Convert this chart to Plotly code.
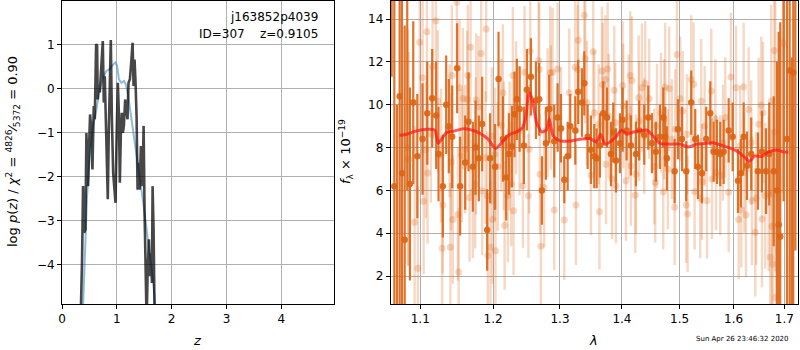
import plotly.graph_objects as go

# ---------------- left panel: redshift PDF ----------------
z_dark = [0.330, 0.341, 0.366, 0.384, 0.402, 0.427, 0.445, 0.463, 0.476, 0.494, 0.512, 0.530,
          0.555, 0.579, 0.598, 0.622, 0.640, 0.652, 0.665, 0.689, 0.720, 0.744, 0.762, 0.780,
          0.799, 0.817, 0.835, 0.854, 0.872, 0.890, 0.909, 0.933, 0.957, 0.976, 0.994, 1.018,
          1.037, 1.055, 1.073, 1.091, 1.110, 1.128, 1.152, 1.177, 1.195, 1.213, 1.238, 1.262,
          1.287, 1.305, 1.323, 1.341, 1.360, 1.378, 1.396, 1.415, 1.439, 1.470, 1.488, 1.506,
          1.524, 1.543, 1.561, 1.585, 1.604, 1.622, 1.640, 1.652, 1.671, 1.689, 1.700]
logp_dark = [-6.5, -5.2, -3.88, -2.21, -3.27, -3.20, -1.00, -2.06, -2.21, -1.30, -0.58, -0.84,
             -1.83, -0.39, -0.69, 1.02, 0.98, -0.24, 0.10, -0.08, 0.45, 1.09, -0.31, 0.29,
             -0.69, -1.68, -2.51, -0.92, -0.08, 1.11, -0.62, -1.91, -2.29, -2.59, -1.22, 0.14,
             -0.54, -2.13, -1.00, -0.54, -1.00, -0.84, -0.24, -0.46, -0.69, 0.14, 0.22, 0.60,
             1.05, 0.07, 0.67, 0.14, -0.62, -2.29, -1.68, -2.29, -1.30, -2.21, -0.84, -2.82,
             -4.41, -5.3, -4.18, -3.42, -4.26, -3.73, -4.41, -2.21, -3.27, -5.2, -6.5]

z_blue = [0.370, 0.384, 0.415, 0.457, 0.506, 0.567, 0.628, 0.689, 0.750, 0.811, 0.872, 0.933,
          0.976, 1.006, 1.037, 1.085, 1.128, 1.165, 1.207, 1.250, 1.299, 1.360, 1.421, 1.482,
          1.543, 1.604, 1.665, 1.701, 1.720]
logp_blue = [-6.0, -4.95, -3.88, -2.44, -1.53, -0.84, -0.46, -0.01, 0.26, 0.41, 0.45, 0.56,
             0.60, 0.52, 0.22, 0.14, 0.18, 0.10, -0.16, -0.54, -1.00, -1.45, -1.98, -2.59,
             -3.20, -3.80, -4.41, -4.95, -5.5]

# ---------------- right panel: spectrum ----------------
wave_a = [1.0630, 1.0664, 1.0698, 1.0732, 1.0762, 1.0797, 1.0830, 1.0865, 1.0908, 1.0961,
          1.1030, 1.1092, 1.1158, 1.1211, 1.1243, 1.1301, 1.1346, 1.1382, 1.1428, 1.1496,
          1.1537, 1.1607, 1.1654, 1.1714, 1.1752, 1.1798, 1.1845, 1.1916, 1.1958, 1.2030,
          1.2079, 1.2142, 1.2190, 1.2229, 1.2273, 1.2312, 1.2347, 1.2387, 1.2451, 1.2496,
          1.2556, 1.2631, 1.2681, 1.2722, 1.2783, 1.2833, 1.2911, 1.2963, 1.3015, 1.3067,
          1.3120, 1.3161, 1.3240, 1.3287, 1.3346, 1.3383, 1.3437, 1.3490, 1.3544, 1.3583,
          1.3636, 1.3690, 1.3751, 1.3817, 1.3855, 1.3900, 1.3966, 1.4011, 1.4078, 1.4151,
          1.4236, 1.4292, 1.4378, 1.4447, 1.4511, 1.4580, 1.4650, 1.4708, 1.4743, 1.4773,
          1.4910, 1.4969, 1.5041, 1.5118, 1.5209, 1.5282, 1.5331, 1.5405, 1.5484, 1.5559,
          1.5622, 1.5684, 1.5746, 1.5810, 1.5905, 1.5981, 1.6083, 1.6140, 1.6193, 1.6257,
          1.6340, 1.6472, 1.6551, 1.6631, 1.6696, 1.6785, 1.6851, 1.6885, 1.6917, 1.6985,
          1.7053, 1.7108, 1.7150, 1.7182, 1.7225]
flux_a = [20.0, 6.2, -2.0, 10.4, 6.8, 3.7, 16.0, 6.3, 10.1, 7.6,
          8.4, 9.6, 10.3, 9.5, 7.7, 6.2, 10.0, 9.0, 8.5, 11.7,
          6.2, 7.3, 9.2, 7.1, 8.0, 7.5, 9.1, 4.15, 7.5, 7.1,
          11.2, 8.4, 6.6, 7.7, 8.05, 9.55, 10.25, 9.8, 8.1, 10.7,
          11.3, 10.2, 10.25, 6.0, 8.2, 9.8, 8.3, 9.4, 8.9, 6.5,
          7.6, 9.0, 8.8, 10.6, 10.1, 11.0, 8.5, 7.9, 7.6, 7.5,
          8.1, 9.6, 9.4, 7.7, 8.7, 7.4, 8.2, 9.3, 8.8, 8.1,
          7.7, 8.8, 8.6, 9.4, 8.2, 7.8, 8.5, 9.4, 8.5, 7.5,
          6.9, 8.85, 8.4, 6.9, 10.1, 8.4, 7.1, 6.8, 8.4, 9.6,
          7.8, 7.8, 7.7, 7.8, 8.8, 8.5, 6.45, 6.8, 8.5, 7.15,
          7.7, 6.9, 7.8, 6.9, 7.7, 6.9, 6.0, 4.4, 3.85, 15.5,
          8.4, 11.6, 0.2, 11.5, 15.2]
err_a = [8.7, 12.0, 12.0, 11.0, 9.0, 10.0, 10.0, 4.5, 3.8, 2.9,
         2.6, 2.4, 2.3, 2.5, 2.2, 2.4, 2.3, 2.2, 2.4, 2.1,
         2.3, 2.2, 2.3, 2.1, 2.2, 2.0, 2.2, 1.9, 2.1, 2.0,
         2.2, 2.0, 2.0, 1.9, 1.9, 2.0, 1.9, 2.0, 1.8, 1.9,
         1.8, 1.8, 1.7, 1.6, 1.7, 1.6, 1.7, 1.6, 1.6, 1.1,
         1.6, 1.5, 1.6, 1.5, 1.6, 1.5, 1.5, 1.6, 1.5, 1.4,
         1.5, 1.5, 1.4, 1.5, 1.4, 1.5, 1.4, 1.5, 1.4, 1.4,
         1.5, 1.4, 1.4, 1.5, 1.4, 1.4, 1.5, 1.4, 1.4, 1.5,
         1.5, 1.4, 1.5, 1.4, 1.5, 1.4, 1.5, 1.4, 1.5, 1.5,
         1.4, 1.5, 1.5, 1.5, 1.5, 1.6, 1.5, 1.6, 1.6, 1.6,
         1.7, 1.8, 1.9, 2.0, 2.4, 3.5, 6.0, 9.0, 10.0, 10.0,
         12.0, 12.0, 12.0, 12.0, 12.0]

wave_b = [1.0839, 1.0848, 1.0926, 1.0969, 1.0992, 1.1031, 1.1044, 1.1074, 1.1088, 1.1097,
          1.1141, 1.1163, 1.1207, 1.1233, 1.1278, 1.1291, 1.1301, 1.1392, 1.1403, 1.1414,
          1.1423, 1.1437, 1.1492, 1.1506, 1.1517, 1.1529, 1.1561, 1.1575, 1.1607, 1.1635,
          1.1644, 1.1668, 1.1682, 1.1714, 1.1747, 1.1756, 1.1761, 1.1795, 1.1831, 1.1845,
          1.1893, 1.1902, 1.1916, 1.1926, 1.1964, 1.1982, 1.1994, 1.2026, 1.2035, 1.2069,
          1.2117, 1.2142, 1.2156, 1.2167, 1.2215, 1.2240, 1.2263, 1.2288, 1.2298, 1.2336,
          1.2387, 1.2436, 1.2461, 1.2518, 1.2530, 1.2546, 1.2672, 1.2681, 1.2692, 1.2707,
          1.2757, 1.2809, 1.2849, 1.2859, 1.2886, 1.2911, 1.2963, 1.3015, 1.3067, 1.3145,
          1.3240, 1.3251, 1.3278, 1.3287, 1.3383, 1.3399, 1.3426, 1.3490, 1.3527, 1.3544,
          1.3615, 1.3628, 1.3669, 1.3681, 1.3724, 1.3735, 1.3763, 1.3780, 1.3834, 1.3872,
          1.3889, 1.3900, 1.4011, 1.4023, 1.4066, 1.4112, 1.4139, 1.4151, 1.4168, 1.4224,
          1.4236, 1.4282, 1.4292, 1.4338, 1.4378, 1.4395, 1.4464, 1.4551, 1.4568, 1.4598,
          1.4668, 1.4708, 1.4725, 1.4743, 1.4791, 1.4814, 1.4862, 1.4910, 1.4921, 1.4951,
          1.5010, 1.5054, 1.5118, 1.5131, 1.5144, 1.5209, 1.5253, 1.5271, 1.5374, 1.5392,
          1.5405, 1.5455, 1.5498, 1.5578, 1.5591, 1.5653, 1.5666, 1.5746, 1.5797, 1.5841,
          1.5905, 1.5949, 1.6045, 1.6097, 1.6127, 1.6147, 1.6193, 1.6207, 1.6238, 1.6290,
          1.6340, 1.6354, 1.6419, 1.6438, 1.6486, 1.6537, 1.6551, 1.6571, 1.6617, 1.6684,
          1.6716, 1.6736, 1.6750, 1.6764, 1.6797, 1.6817, 1.6831, 1.6972]
flux_b = [8.0, 7.46, 4.51, 2.37, 12.91, 11.26, 5.49, 7.9, 13.40, 6.81,
          8.62, 11.80, 13.92, 10.17, 7.64, 3.30, 5.32, 8.78, 3.35, 7.33,
          11.36, 4.64, 14.78, 4.88, 2.19, 10.79, 7.61, 10.29, 7.92, 10.25,
          11.36, 5.67, 12.68, 5.94, 6.29, 8.08, 10.22, 9.91, 12.39, 5.98,
          7.53, 13.53, 5.75, 2.96, 3.35, 8.54, 4.64, 7.69, 3.19, 7.12,
          9.04, 10.56, 8.08, 4.36, 5.75, 8.08, 6.29, 11.36, 5.05, 9.86,
          8.78, 6.22, 11.52, 5.75, 7.92, 12.50, 12.06, 11.64, 6.76, 3.40,
          6.14, 9.63, 11.49, 9.86, 11.52, 5.09, 11.67, 8.85, 4.62, 10.56,
          11.75, 5.32, 11.64, 13.01, 14.17, 12.14, 10.09, 6.71, 12.47, 9.63,
          9.09, 5.01, 11.57, 10.93, 11.18, 7.22, 11.67, 9.47, 6.53, 10.68,
          9.16, 6.22, 10.90, 9.94, 6.45, 9.44, 11.36, 7.15, 11.13, 5.78,
          6.76, 10.33, 9.24, 10.79, 8.54, 10.99, 10.28, 7.12, 6.37, 9.01,
          9.63, 5.94, 9.32, 10.82, 6.99, 10.74, 8.39, 5.21, 8.85, 12.34,
          10.28, 9.71, 5.32, 8.62, 4.90, 11.18, 10.95, 5.94, 5.63, 10.17,
          6.40, 9.01, 5.52, 10.64, 6.53, 9.32, 6.84, 6.71, 8.23, 9.40,
          5.91, 11.29, 10.79, 4.64, 8.08, 5.10, 10.84, 6.84, 4.85, 9.78,
          8.23, 5.52, 4.05, 5.63, 9.09, 9.97, 4.67, 9.63, 5.75, 5.83,
          2.88, 10.17, 4.33, 2.57, 12.53, 8.73, 1.02, 12.88]
err_b = [5.5, 5.0, 4.5, 3.8, 4.5, 3.6, 3.4, 3.2, 3.5, 3.3,
         3.2, 3.4, 3.5, 3.3, 3.1, 3.0, 3.2, 3.1, 3.0, 3.2,
         3.3, 3.0, 3.4, 3.1, 3.0, 3.2, 3.1, 3.3, 3.0, 3.2,
         3.3, 3.0, 3.4, 3.1, 3.0, 3.2, 3.1, 3.3, 3.2, 3.0,
         3.1, 3.4, 3.0, 2.9, 3.1, 3.2, 3.0, 3.1, 2.9, 3.0,
         3.1, 3.2, 3.0, 3.0, 3.1, 3.0, 2.9, 3.2, 3.0, 3.1,
         3.0, 2.9, 3.1, 2.9, 3.0, 3.1, 3.0, 3.1, 2.8, 2.9,
         2.8, 3.0, 3.1, 2.9, 3.0, 2.8, 3.1, 2.9, 2.8, 3.0,
         3.1, 2.8, 3.0, 3.1, 3.2, 3.0, 2.9, 2.8, 3.1, 2.9,
         2.8, 2.7, 3.0, 2.9, 3.0, 2.8, 3.1, 2.9, 2.8, 3.0,
         2.8, 2.7, 3.0, 2.9, 2.8, 2.9, 3.0, 2.8, 3.0, 2.7,
         2.8, 2.9, 2.8, 3.0, 2.7, 2.9, 2.8, 2.7, 2.8, 2.9,
         2.8, 2.7, 2.8, 3.0, 2.8, 2.9, 2.8, 2.7, 2.8, 3.1,
         2.9, 2.8, 2.7, 2.8, 2.7, 3.0, 2.9, 2.7, 2.8, 2.9,
         2.7, 2.8, 2.7, 2.9, 2.8, 2.8, 2.7, 2.8, 2.7, 2.8,
         2.8, 3.0, 2.9, 2.8, 2.8, 2.7, 3.0, 2.8, 2.9, 2.9,
         2.9, 3.0, 3.0, 3.1, 3.1, 3.2, 3.2, 3.3, 3.4, 3.6,
         4.0, 4.5, 4.5, 5.0, 5.5, 6.5, 6.0, 7.0]

wave_model = [1.0727, 1.0822, 1.0953, 1.1083, 1.1194, 1.1237, 1.1350, 1.1464, 1.1579, 1.1696,
              1.1812, 1.1930, 1.2040, 1.2146, 1.2244, 1.2342, 1.2431, 1.2481, 1.2516, 1.2541,
              1.2581, 1.2641, 1.2718, 1.2793, 1.2833, 1.2895, 1.2999, 1.3156, 1.3314, 1.3474,
              1.3582, 1.3646, 1.3718, 1.3800, 1.3911, 1.3994, 1.4078, 1.4190, 1.4304, 1.4419,
              1.4533, 1.4650, 1.4826, 1.5005, 1.5154, 1.5307, 1.5492, 1.5614, 1.5802, 1.5961,
              1.6121, 1.6218, 1.6301, 1.6413, 1.6545, 1.6676, 1.6844, 1.6978, 1.7080]
flux_model = [8.57, 8.62, 8.78, 8.85, 8.81, 8.20, 8.70, 8.78, 8.88, 8.82,
              8.67, 8.39, 7.95, 8.31, 8.62, 8.73, 8.93, 9.47, 10.40, 10.56,
              10.17, 9.16, 8.73, 8.82, 9.35, 8.54, 8.31, 8.31, 8.39, 8.42,
              8.26, 8.62, 8.16, 8.26, 8.54, 8.82, 8.62, 8.73, 8.78, 8.82,
              8.54, 8.20, 8.16, 8.16, 8.03, 8.16, 8.20, 8.23, 8.08, 7.95,
              7.74, 7.53, 7.35, 7.61, 7.58, 7.80, 7.89, 7.80, 7.78]

lam_ticks = [1.1, 1.2, 1.3, 1.4, 1.5, 1.6, 1.7]
lam_ticktext = ["1.1", "1.2", "1.3", "1.4", "1.5", "1.6", "1.7"]

ORANGE_DARK = "rgba(220,100,20,0.9)"
ORANGE_LIGHT = "rgba(220,100,20,0.25)"
FONT = "DejaVu Sans"

fig = go.Figure()

# left panel curves
fig.add_trace(go.Scatter(x=z_blue, y=logp_blue, mode="lines",
                         line=dict(color="rgba(31,119,180,0.5)", width=2),
                         xaxis="x", yaxis="y", showlegend=False))
fig.add_trace(go.Scatter(x=z_dark, y=logp_dark, mode="lines",
                         line=dict(color="rgba(0,0,0,0.72)", width=2.6),
                         xaxis="x", yaxis="y", showlegend=False))

# right panel spectra
fig.add_trace(go.Scatter(x=wave_b, y=flux_b, mode="markers",
                         marker=dict(color=ORANGE_LIGHT, size=7, line=dict(width=0)),
                         error_y=dict(type="data", array=err_b, visible=True,
                                      color=ORANGE_LIGHT, thickness=2.4, width=0),
                         xaxis="x2", yaxis="y2", showlegend=False))
fig.add_trace(go.Scatter(x=wave_a, y=flux_a, mode="markers",
                         marker=dict(color=ORANGE_DARK, size=6.5, line=dict(width=0)),
                         error_y=dict(type="data", array=err_a, visible=True,
                                      color=ORANGE_DARK, thickness=2.2, width=0),
                         xaxis="x2", yaxis="y2", showlegend=False))
fig.add_trace(go.Scatter(x=wave_model, y=flux_model, mode="lines",
                         line=dict(color="rgba(255,20,20,0.7)", width=3, shape="spline",
                                   smoothing=0.5),
                         xaxis="x2", yaxis="y2", showlegend=False))

W, H = 800, 350
axis_common = dict(showline=True, linecolor="black", linewidth=1, mirror=True,
                   ticks="outside", ticklen=4, tickwidth=1, tickcolor="black",
                   showgrid=True, gridcolor="#b0b0b0", gridwidth=1, zeroline=False,
                   automargin=False,
                   tickfont=dict(family=FONT, size=12, color="black"))

fig.update_layout(
    width=W, height=H,
    margin=dict(l=0, r=0, t=0, b=0, autoexpand=False),
    paper_bgcolor="white", plot_bgcolor="white",
    font=dict(family=FONT, size=12, color="black"),
    hovermode=False,
    xaxis=dict(domain=[62 / W, 334 / W], range=[0, 4.96],
               tickvals=[0, 1, 2, 3, 4], anchor="y", **axis_common),
    yaxis=dict(domain=[1 - 304 / H, 1 - 1 / H], range=[-4.89, 2.0],
               tickvals=[-4, -3, -2, -1, 0, 1], anchor="x", **axis_common),
    xaxis2=dict(domain=[390.7 / W, 798 / W], type="log",
                range=[0.02604, 0.23754], tickvals=lam_ticks, ticktext=lam_ticktext,
                anchor="y2", **axis_common),
    yaxis2=dict(domain=[1 - 304 / H, 1 - 1 / H], range=[0.70, 14.84],
                tickvals=[2, 4, 6, 8, 10, 12, 14], anchor="x2", **axis_common),
)

def ann(px, py, text, size=12, xanchor="center", angle=0):
    fig.add_annotation(x=px / W, y=1 - py / H, xref="paper", yref="paper",
                       text=text, showarrow=False, xanchor=xanchor, yanchor="middle",
                       textangle=angle, font=dict(family=FONT, size=size, color="black"))

ann(320, 17, "j163852p4039", xanchor="right")
ann(320, 34, "ID=307    z=0.9105", xanchor="right")
ann(197, 340, "<i>z</i>", size=13)
ann(593, 340, "<i>λ</i>", size=13)
ann(13, 152, "log <i>p</i>(<i>z</i>) / <i>χ</i><sup>2</sup> = <sup>4826</sup>⁄<sub>5372</sub> = 0.90",
    size=13, angle=-90)
ann(346, 152, "<i>f</i><sub>λ</sub> × 10<sup>−19</sup>", size=13, angle=-90)
ann(742, 339, "Sun Apr 26 23:46:32 2020", size=7)

fig.write_html("out.html", config={"displayModeBar": False},
               post_script="document.body.style.margin='0px';document.body.style.overflow='hidden';")
